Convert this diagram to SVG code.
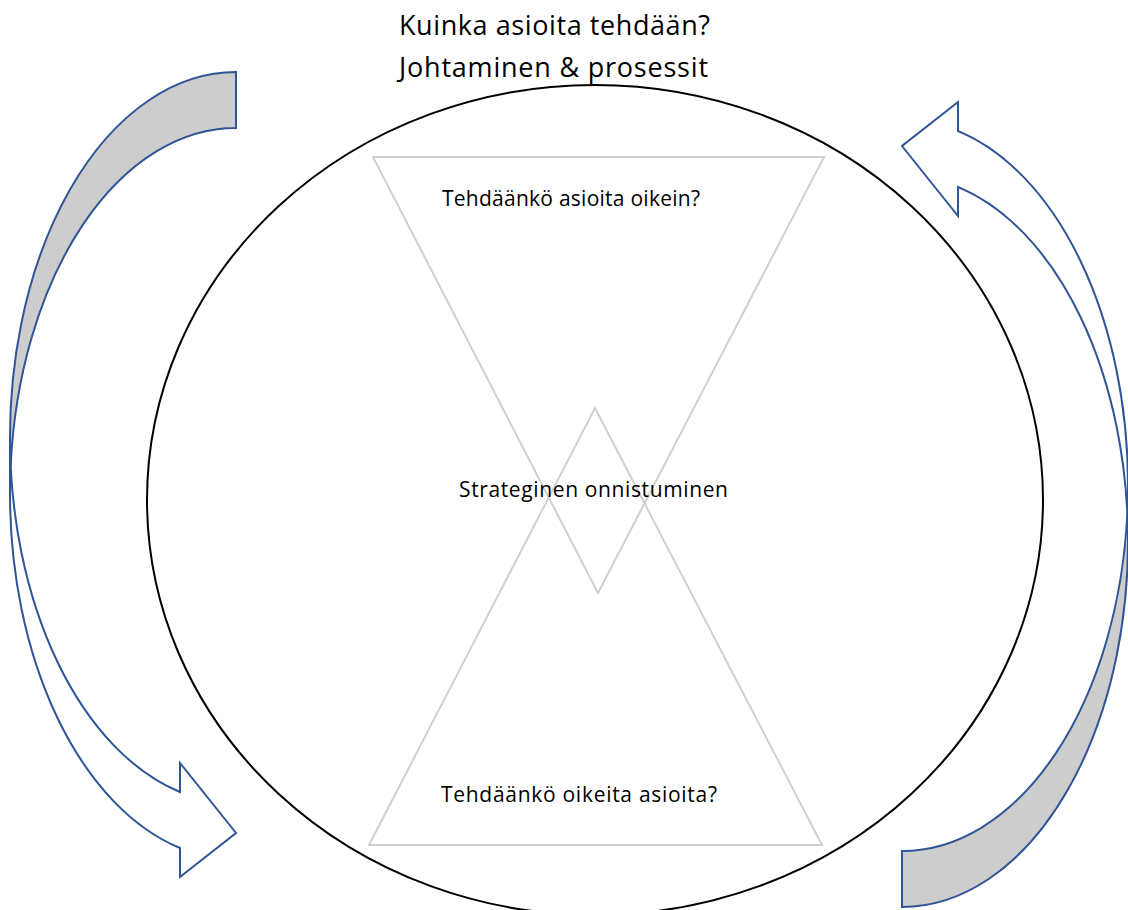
<svg xmlns="http://www.w3.org/2000/svg" width="1128" height="910" viewBox="0 0 1128 910">
  <style>
    .label { font-family: "Open Sans", "Noto Sans", "Liberation Sans", sans-serif; fill: #000; }
    .title { font-size: 27px; }
    .small { font-size: 21px; }
    .tri { fill: none; stroke: #d0d0d0; stroke-width: 2; stroke-linejoin: miter; }
    .ring { fill: none; stroke: #000; stroke-width: 2; }
    .arrow-back { fill: #cdcdcd; stroke: #2f5597; stroke-width: 2; stroke-linejoin: miter; }
    .arrow-front { fill: #ffffff; stroke: #2f5597; stroke-width: 2; stroke-linejoin: miter; }
  </style>
  <defs>
    <!-- curved arrow: shaded back band on top, open front band ending in a right-pointing head -->
    <g id="curved-arrow">
      <path class="arrow-back" d="M236,72 A226,365.7 0 0 0 10.66,465.7 A226,365.7 0 0 1 236,128 Z"/>
      <path class="arrow-front" d="M10,437.7 A226,365.7 0 0 0 180,792 L180,763 L236,833 L180,877 L180,848 A226,365.7 0 0 1 10,493.7 Z"/>
    </g>
  </defs>

  <rect width="1128" height="910" fill="#ffffff"/>

  <g id="title">
    <text class="label title" x="399" y="35" textLength="311">Kuinka asioita tehdään?</text>
    <text class="label title" x="399" y="77" textLength="309">Johtaminen &amp; prosessit</text>
  </g>

  <g id="frame-ellipse">
    <ellipse class="ring" cx="595" cy="500" rx="448" ry="415"/>
  </g>

  <g id="connectors">
    <use id="arrow-left" href="#curved-arrow"/>
    <use id="arrow-right" href="#curved-arrow" transform="rotate(180 569 489.5)"/>
  </g>

  <g id="triangle-top">
    <polygon class="tri" points="373,157 824,157 598,593"/>
    <text class="label small" x="442" y="206" textLength="258">Tehdäänkö asioita oikein?</text>
  </g>

  <g id="triangle-bottom">
    <polygon class="tri" points="595,408 822,845 369,845"/>
    <text class="label small" x="441" y="802" textLength="276">Tehdäänkö oikeita asioita?</text>
  </g>

  <g id="center">
    <text class="label small" x="459" y="497" textLength="269">Strateginen onnistuminen</text>
  </g>
</svg>
